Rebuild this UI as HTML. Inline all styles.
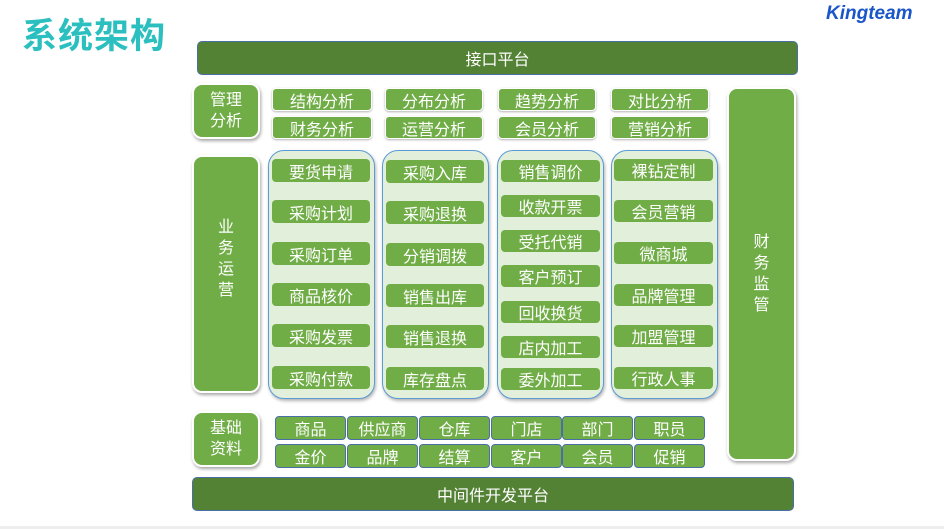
<!DOCTYPE html>
<html><head><meta charset="utf-8"><style>
*{margin:0;padding:0;box-sizing:border-box}
body{width:944px;height:529px;background:#fff;position:relative;overflow:hidden;font-family:"Liberation Sans","Noto Sans CJK SC",sans-serif}
div{position:absolute}
.t{left:22px;top:8px;font-size:35px;font-weight:bold;color:#2bbfbf;letter-spacing:1px}
.k{left:826px;top:3px;font-size:19px;font-weight:bold;font-style:italic;color:#1a56c8}
.bar{background:#548235;border:1px solid #4a6fa5;border-radius:5px;color:#fff;font-size:16px;text-align:center;display:flex;align-items:center;justify-content:center}
.side{background:#70ad47;border:2px solid #fff;border-radius:10px;box-shadow:1px 2px 3px rgba(0,0,0,.35);color:#fff;font-size:16px;text-align:center;display:flex;align-items:center;justify-content:center;line-height:21px}
.b{background:#70ad47;border-radius:4px;color:#fff;font-size:16px;text-align:center;display:flex;align-items:center;justify-content:center}
.a{border:1px solid #fff;box-shadow:0 1px 2px rgba(0,0,0,.3)}
.p{background:#e2efda;border:1.5px solid #5b9bd5;border-radius:16px;box-shadow:1px 2px 3px rgba(0,0,0,.3)}
.g{background:#70ad47;border:1.5px solid #4a6fa5;border-radius:4px;color:#fff;font-size:16px;display:flex;align-items:center;justify-content:center;width:71px;height:24px}
</style></head><body>
<div class="t">系统架构</div>
<div class="k">Kingteam</div>
<div class="bar" style="left:197px;top:41px;width:601px;height:34px">接口平台</div>

<div class="side" style="left:192px;top:83px;width:68px;height:56px">管理<br>分析</div>
<div class="b a" style="left:272px;top:88px;width:100px;height:23px">结构分析</div>
<div class="b a" style="left:385px;top:88px;width:98px;height:23px">分布分析</div>
<div class="b a" style="left:498px;top:88px;width:98px;height:23px">趋势分析</div>
<div class="b a" style="left:611px;top:88px;width:98px;height:23px">对比分析</div>
<div class="b a" style="left:272px;top:116px;width:100px;height:23px">财务分析</div>
<div class="b a" style="left:385px;top:116px;width:98px;height:23px">运营分析</div>
<div class="b a" style="left:498px;top:116px;width:98px;height:23px">会员分析</div>
<div class="b a" style="left:611px;top:116px;width:98px;height:23px">营销分析</div>

<div class="side" style="left:192px;top:155px;width:68px;height:238px;padding-bottom:30px">业<br>务<br>运<br>营</div>

<div class="p" style="left:268px;top:150px;width:107px;height:249px"></div>
<div class="p" style="left:382px;top:150px;width:107px;height:249px"></div>
<div class="p" style="left:497px;top:150px;width:107px;height:249px"></div>
<div class="p" style="left:611px;top:150px;width:107px;height:249px"></div>

<div class="b" style="left:272px;top:159px;width:98px;height:23px">要货申请</div>
<div class="b" style="left:272px;top:200px;width:98px;height:23px">采购计划</div>
<div class="b" style="left:272px;top:242px;width:98px;height:23px">采购订单</div>
<div class="b" style="left:272px;top:283px;width:98px;height:23px">商品核价</div>
<div class="b" style="left:272px;top:324px;width:98px;height:23px">采购发票</div>
<div class="b" style="left:272px;top:366px;width:98px;height:23px">采购付款</div>

<div class="b" style="left:386px;top:160px;width:98px;height:23px">采购入库</div>
<div class="b" style="left:386px;top:201px;width:98px;height:23px">采购退换</div>
<div class="b" style="left:386px;top:243px;width:98px;height:23px">分销调拨</div>
<div class="b" style="left:386px;top:284px;width:98px;height:23px">销售出库</div>
<div class="b" style="left:386px;top:325px;width:98px;height:23px">销售退换</div>
<div class="b" style="left:386px;top:367px;width:98px;height:23px">库存盘点</div>

<div class="b" style="left:501px;top:160px;width:99px;height:22px">销售调价</div>
<div class="b" style="left:501px;top:195px;width:99px;height:22px">收款开票</div>
<div class="b" style="left:501px;top:230px;width:99px;height:22px">受托代销</div>
<div class="b" style="left:501px;top:265px;width:99px;height:22px">客户预订</div>
<div class="b" style="left:501px;top:301px;width:99px;height:22px">回收换货</div>
<div class="b" style="left:501px;top:336px;width:99px;height:22px">店内加工</div>
<div class="b" style="left:501px;top:368px;width:99px;height:22px">委外加工</div>

<div class="b" style="left:614px;top:159px;width:99px;height:22px">裸钻定制</div>
<div class="b" style="left:614px;top:200px;width:99px;height:22px">会员营销</div>
<div class="b" style="left:614px;top:242px;width:99px;height:22px">微商城</div>
<div class="b" style="left:614px;top:284px;width:99px;height:22px">品牌管理</div>
<div class="b" style="left:614px;top:325px;width:99px;height:22px">加盟管理</div>
<div class="b" style="left:614px;top:367px;width:99px;height:22px">行政人事</div>

<div class="side" style="left:727px;top:87px;width:69px;height:374px">财<br>务<br>监<br>管</div>

<div class="side" style="left:192px;top:411px;width:68px;height:56px">基础<br>资料</div>
<div class="g" style="left:275px;top:416px">商品</div>
<div class="g" style="left:347px;top:416px">供应商</div>
<div class="g" style="left:419px;top:416px">仓库</div>
<div class="g" style="left:491px;top:416px">门店</div>
<div class="g" style="left:562px;top:416px">部门</div>
<div class="g" style="left:634px;top:416px">职员</div>
<div class="g" style="left:275px;top:444px">金价</div>
<div class="g" style="left:347px;top:444px">品牌</div>
<div class="g" style="left:419px;top:444px">结算</div>
<div class="g" style="left:491px;top:444px">客户</div>
<div class="g" style="left:562px;top:444px">会员</div>
<div class="g" style="left:634px;top:444px">促销</div>

<div class="bar" style="left:192px;top:477px;width:602px;height:34px">中间件开发平台</div>
<div style="left:0;top:526px;width:944px;height:3px;background:#eee"></div>
</body></html>
